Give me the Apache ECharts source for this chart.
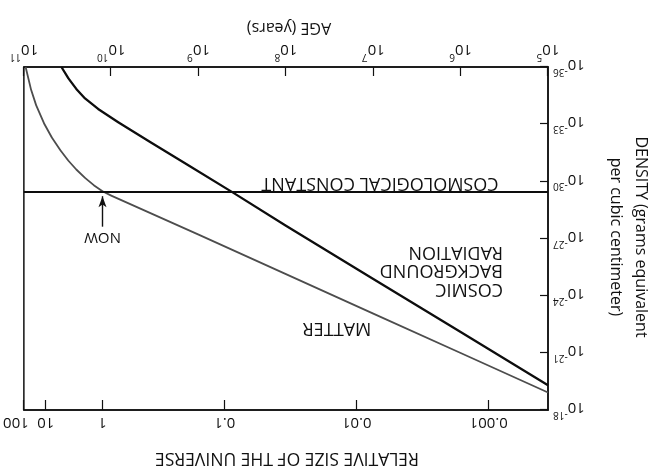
<!DOCTYPE html>
<html><head><meta charset="utf-8">
<script src="https://cdn.jsdelivr.net/npm/echarts@6/dist/echarts.min.js"></script>
<style>
html,body{margin:0;padding:0;background:#fff;overflow:hidden;}
#wrap{width:659px;height:472px;transform:rotate(180deg);transform-origin:50% 50%;}
#c{width:659px;height:472px;}
</style></head><body>
<div id="wrap"><div id="c"></div></div>
<script>
// All values are log10 exponents (age in years, density in g/cm^3)
const ageTicks = [5, 6, 7, 8, 9, 10, 11];
const densTicks = [-36, -33, -30, -27, -24, -21, -18];
const sizeTickLabels = ['0.001', '0.01', '0.1', '1', '10', '100'];
const sizeTickAge = [5.68, 7.19, 8.70, 10.10, 10.75, 11.0];

const matterAge  = [5.0, 6.0, 7.0, 8.0, 9.0, 9.5, 10.0, 10.1, 10.2, 10.3, 10.4, 10.49, 10.58, 10.68, 10.77, 10.86, 10.92, 10.98];
const matterDens = [-18.92, -20.99, -23.06, -25.13, -27.2, -28.23, -29.25, -29.48, -29.8, -30.18, -30.62, -31.08, -31.62, -32.3, -33.05, -34.0, -34.85, -36];

const radAge  = [5.0, 6.0, 7.0, 8.0, 8.61, 9.16, 9.55, 9.92, 10.15, 10.30, 10.40, 10.49, 10.57];
const radDens = [-19.3, -22.09, -24.88, -27.67, -29.42, -30.96, -32.05, -33.1, -33.8, -34.35, -34.85, -35.4, -36];

const constAge  = [5, 11];
const constDens = [-29.44, -29.44];

const nowAge = 10.10;
const nowArrowFrom = -27.62;
const nowArrowTo = -29.22;

const FONT = '"Open Sans", "Noto Sans", sans-serif';
const INK = '#111';
const zip = (a, b) => a.map((v, i) => [v, b[i]]);

const chart = echarts.init(document.getElementById('c'));
const supRich = {
  b: { fontSize: 15, fontFamily: FONT, color: INK, verticalAlign: 'bottom', lineHeight: 20 },
  s: { fontSize: 10, fontFamily: FONT, color: INK, verticalAlign: 'top', lineHeight: 20 },
  r: { fontSize: 15, fontFamily: FONT, color: INK, padding: [0, 0, 0, 16] },
  n: { fontSize: 15, fontFamily: FONT, color: INK }
};

chart.setOption({
  animation: false,
  backgroundColor: '#fff',
  grid: { left: 111, right: 20, top: 62, bottom: 67, show: true, borderColor: INK, borderWidth: 1.5, backgroundColor: 'transparent' },
  xAxis: [
    {
      type: 'value', min: 5, max: 11, interval: 1, position: 'bottom',
      axisLine: { show: true, lineStyle: { color: INK, width: 1.5 } },
      axisTick: { show: true, inside: true, length: 9, lineStyle: { color: INK, width: 1.2 } },
      splitLine: { show: false },
      axisLabel: { margin: 5, formatter: v => '{b|10}{s|' + v + '}', rich: supRich }
    },
    {
      type: 'value', min: 5, max: 11, position: 'top',
      axisLine: { show: true, lineStyle: { color: INK, width: 1.5 } },
      axisTick: { show: true, inside: true, length: 10, customValues: sizeTickAge, lineStyle: { color: INK, width: 1.2 } },
      splitLine: { show: false },
      axisLabel: {
        margin: 5, customValues: sizeTickAge, rich: supRich,
        formatter: v => {
          let best = 0;
          sizeTickAge.forEach((t, i) => { if (Math.abs(t - v) < Math.abs(sizeTickAge[best] - v)) best = i; });
          const lab = sizeTickLabels[best];
          return best === sizeTickLabels.length - 1 ? '{r|' + lab + '}' : '{n|' + lab + '}';
        }
      }
    }
  ],
  yAxis: [{
    type: 'value', min: -36, max: -18, interval: 3,
    axisLine: { show: true, lineStyle: { color: INK, width: 1.5 } },
    axisTick: { show: true, inside: true, length: 8, lineStyle: { color: INK, width: 1.2 } },
    splitLine: { show: false },
    axisLabel: { margin: 5, formatter: v => '{b|10}{s|-' + Math.abs(v) + '}', rich: supRich }
  }],
  series: [
    {
      name: 'MATTER', type: 'line', xAxisIndex: 0, data: zip(matterAge, matterDens),
      showSymbol: false, smooth: false,
      lineStyle: { color: '#4d4d4d', width: 1.8, join: 'round' }
    },
    {
      name: 'COSMIC BACKGROUND RADIATION', type: 'line', xAxisIndex: 0, data: zip(radAge, radDens),
      showSymbol: false, smooth: false,
      lineStyle: { color: '#0d0d0d', width: 2.3, join: 'round' }
    },
    {
      name: 'COSMOLOGICAL CONSTANT', type: 'line', xAxisIndex: 0, data: zip(constAge, constDens),
      showSymbol: false, lineStyle: { color: '#0d0d0d', width: 2 },
      markLine: {
        silent: true, animation: false,
        symbol: ['none', 'arrow'], symbolSize: [6, 11],
        lineStyle: { color: INK, width: 1.4, type: 'solid' },
        label: { show: true, position: 'start', formatter: 'NOW', fontFamily: FONT, fontSize: 15, color: INK, distance: 3 },
        data: [[{ coord: [nowAge, nowArrowFrom] }, { coord: [nowAge, nowArrowTo] }]]
      }
    }
  ],
  graphic: [
    { type: 'text', x: 372, y: 14, style: { text: 'RELATIVE SIZE OF THE UNIVERSE', font: '17.5px ' + FONT, fill: INK, align: 'center', verticalAlign: 'middle' } },
    { type: 'text', x: 370, y: 444, style: { text: 'AGE (years)', font: '16px ' + FONT, fill: INK, align: 'center', verticalAlign: 'middle' } },
    { type: 'text', x: 31, y: 235, rotation: Math.PI / 2, style: { text: 'DENSITY (grams equivalent\nper cubic centimeter)', font: '16px ' + FONT, lineHeight: 25, fill: INK, align: 'center', verticalAlign: 'middle' } },
    { type: 'text', x: 279, y: 289, style: { text: 'COSMOLOGICAL CONSTANT', font: '18px ' + FONT, fill: INK, align: 'center', verticalAlign: 'middle' } },
    { type: 'text', x: 156, y: 174, style: { text: 'COSMIC\nBACKGROUND\nRADIATION', font: '18px ' + FONT, lineHeight: 18.5, fill: INK, align: 'left', verticalAlign: 'top' } },
    { type: 'text', x: 322, y: 144, style: { text: 'MATTER', font: '18px ' + FONT, fill: INK, align: 'center', verticalAlign: 'middle' } }
  ]
});
</script>
</body></html>
